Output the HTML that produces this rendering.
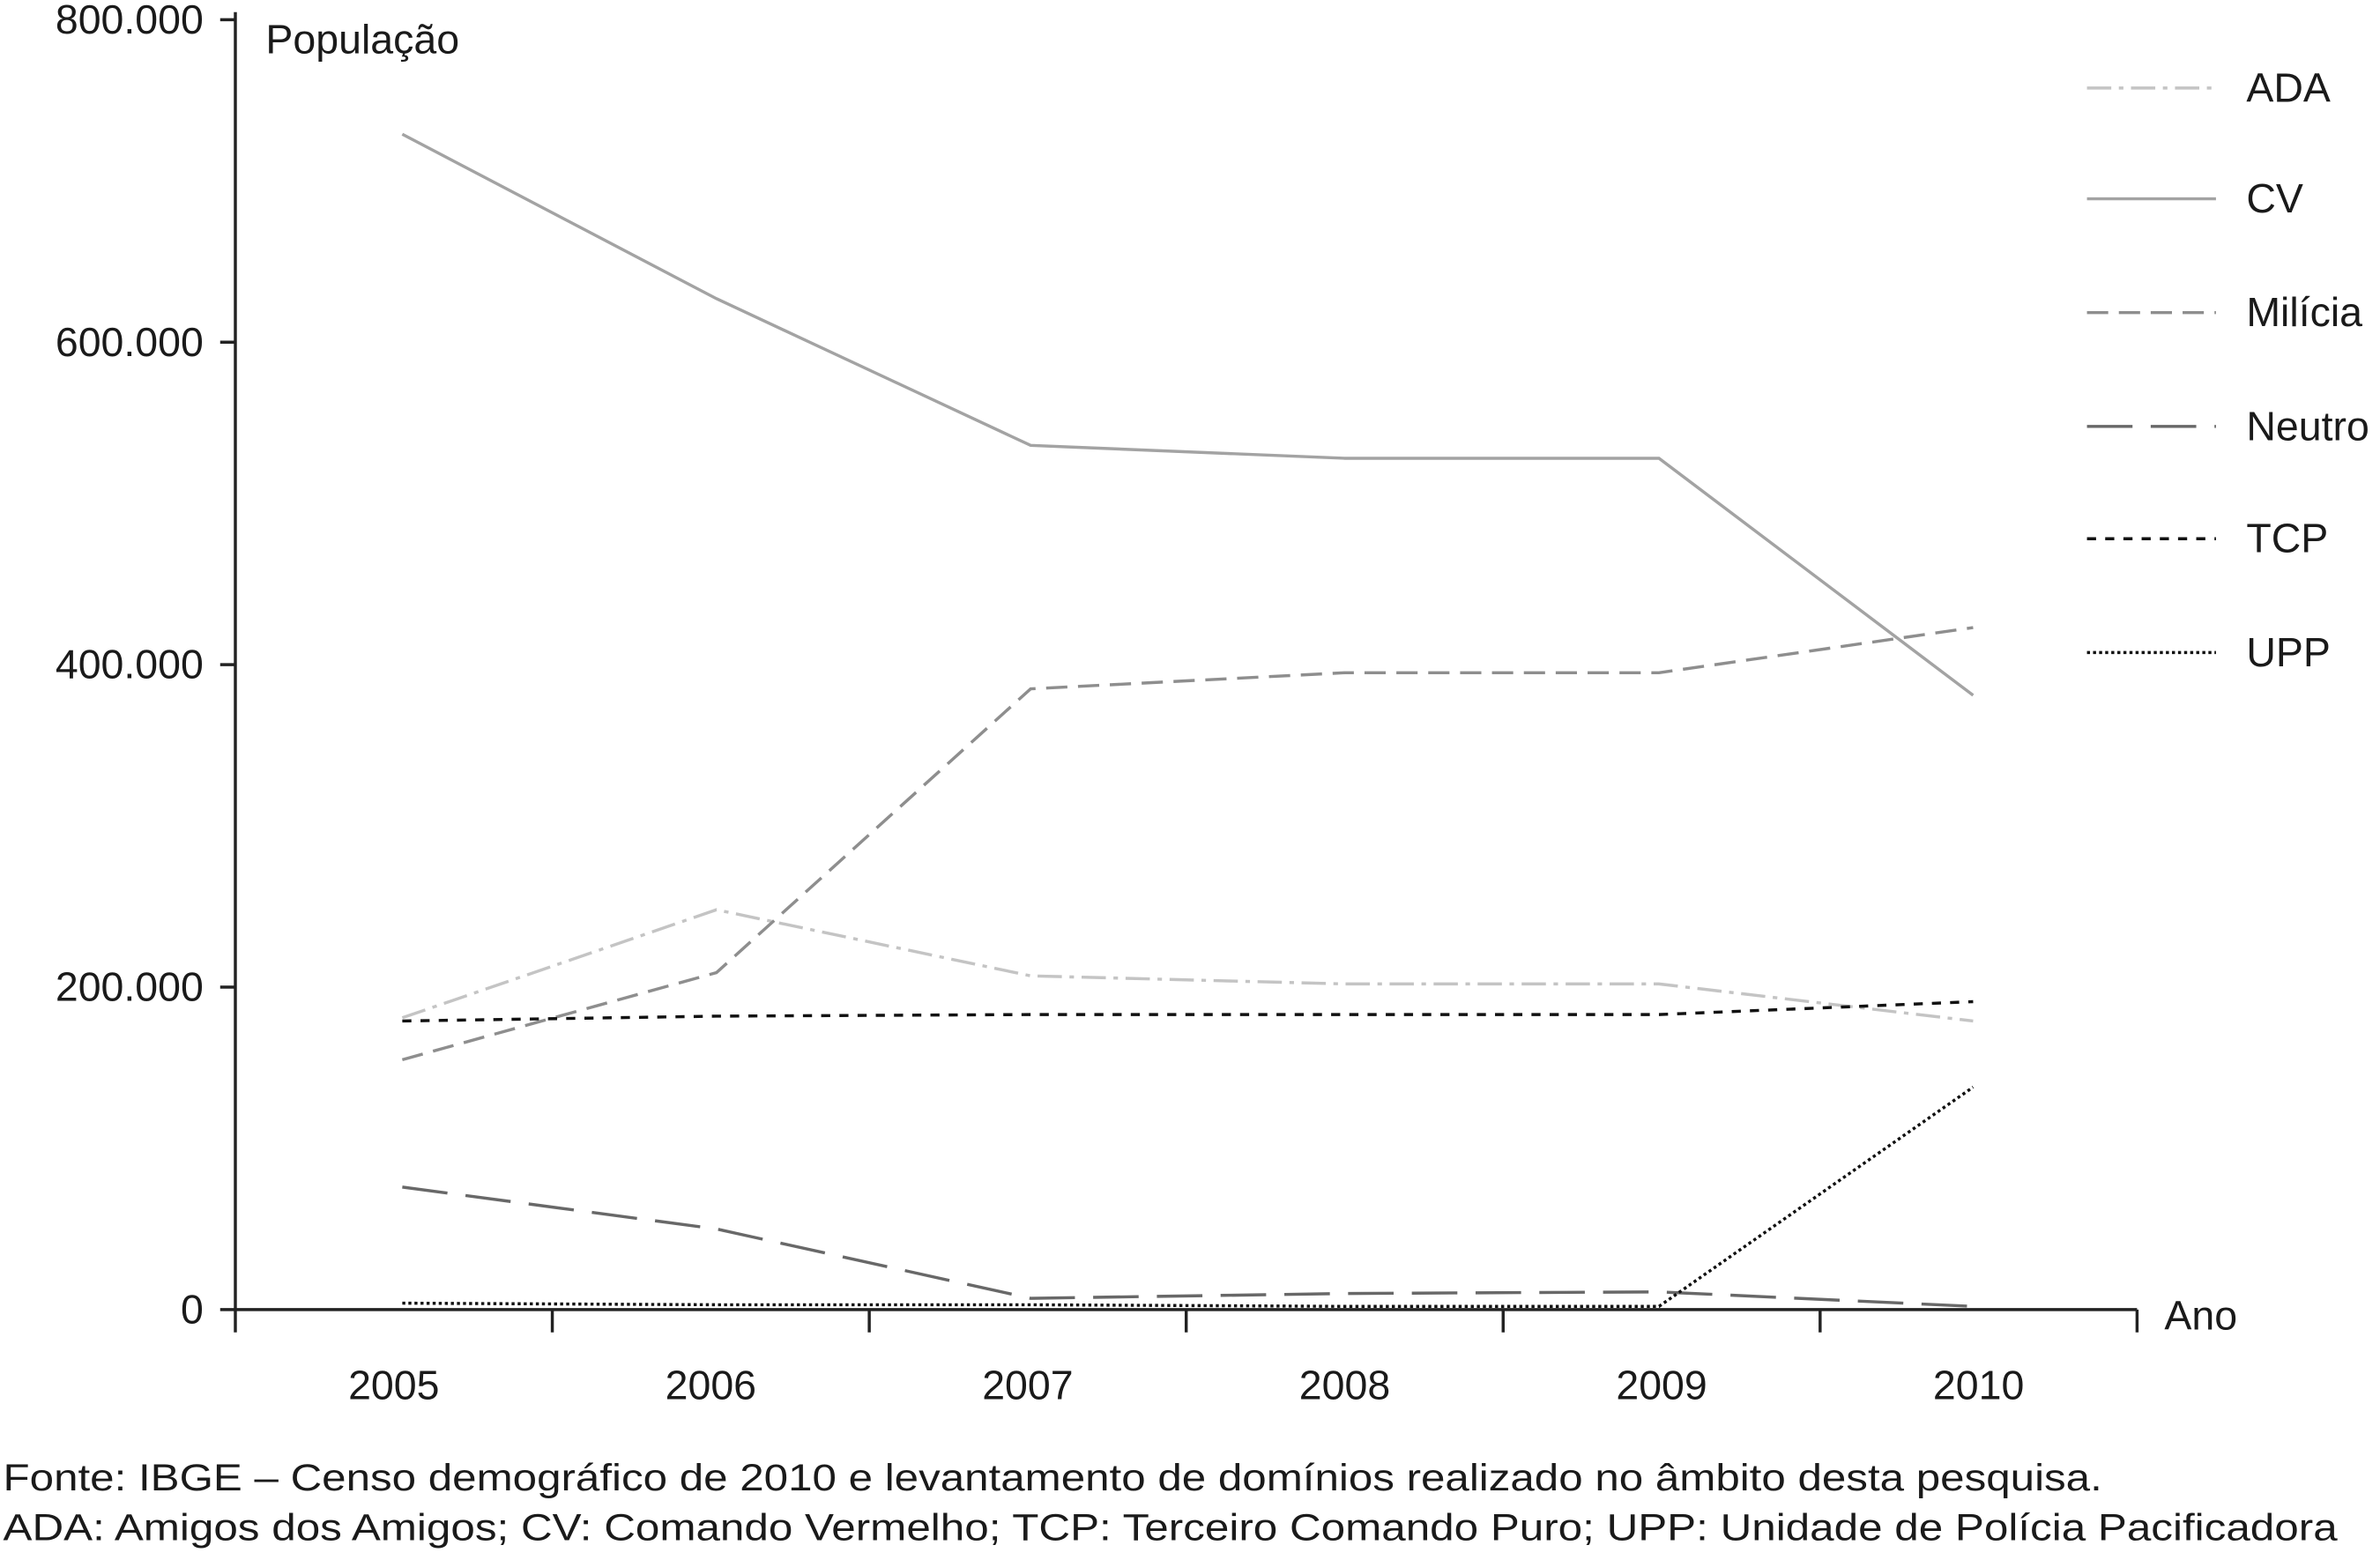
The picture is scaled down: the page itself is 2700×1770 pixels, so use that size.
<!DOCTYPE html>
<html><head><meta charset="utf-8"><style>
html,body{margin:0;padding:0;background:#fff}
svg{display:block}
text{font-family:"Liberation Sans",sans-serif;fill:#1a1a1a}
</style></head><body>
<svg id="chart" width="2700" height="1770" viewBox="0 0 1568 1028" xmlns="http://www.w3.org/2000/svg">
<g id="axes"></g><g id="series"></g><g id="legend"></g>
<text x="2" y="982" font-size="25" textLength="1383" lengthAdjust="spacingAndGlyphs">Fonte: IBGE – Censo demográfico de 2010 e levantamento de domínios realizado no âmbito desta pesquisa.</text>
<text x="2" y="1015" font-size="25" textLength="1538" lengthAdjust="spacingAndGlyphs">ADA: Amigos dos Amigos; CV: Comando Vermelho; TCP: Terceiro Comando Puro; UPP: Unidade de Polícia Pacificadora</text>
</svg>
<script>
const years = ["2005","2006","2007","2008","2009","2010"];
const yTicks = [0,200000,400000,600000,800000];
const yTickLabels = ["0","200.000","400.000","600.000","800.000"];
const seriesNames = ["ADA","CV","Milícia","Neutro","TCP","UPP"];
const adaValues = [181000,248000,207000,202000,202000,179000];
const cvValues = [729000,627000,536000,528000,528000,381000];
const miliciaValues = [155000,209000,385000,395000,395000,423000];
const neutroValues = [76000,50000,7000,10000,11000,2000];
const tcpValues = [179000,182000,183000,183000,183000,191000];
const uppValues = [4000,3000,3000,2000,2000,138000];

const NS="http://www.w3.org/2000/svg";
const x0=155,x1=1408,yBase=863,yTop=13;
function yScale(v){return yBase-(v/800000)*(yBase-yTop);}
function xScale(i){return 265+i*207;}
function mk(tag,attrs,parent){const e=document.createElementNS(NS,tag);for(const k in attrs)e.setAttribute(k,attrs[k]);parent.appendChild(e);return e;}
const axes=document.getElementById('axes');
let e=mk('line',{x1:x0,y1:8,x2:x0,y2:yBase,stroke:'#222','stroke-width':2},axes);


e=mk('line',{x1:x0,y1:yBase,x2:x1,y2:yBase,stroke:'#222','stroke-width':2},axes);


yTicks.forEach((v,i)=>{
  const y=yScale(v);
  const l=mk('line',{x1:x0-10,y1:y,x2:x0,y2:y,stroke:'#222','stroke-width':2},axes);
  
  
  const t=mk('text',{x:134,y:y+9,'font-size':27,'text-anchor':'end'},axes);
  t.textContent=yTickLabels[i];
  
  
});
for(let i=0;i<=years.length;i++){
  const x=x0+i*(x1-x0)/years.length;
  const l=mk('line',{x1:x,y1:yBase,x2:x,y2:878,stroke:'#222','stroke-width':2},axes);
  
  
}
years.forEach((yr,i)=>{
  const t=mk('text',{x:x0+(i+0.5)*(x1-x0)/years.length,y:922,'font-size':27,'text-anchor':'middle'},axes);
  t.textContent=yr;
  
  
});
e=mk('text',{x:175,y:35,'font-size':27},axes);e.textContent='População';


e=mk('text',{x:1426,y:876,'font-size':27},axes);e.textContent='Ano';



const styles=[
 {vals:adaValues,stroke:'#c4c4c4',dash:'16 5 3 5',w:2},
 {vals:cvValues,stroke:'#a3a3a3',dash:'',w:2},
 {vals:miliciaValues,stroke:'#8e8e8e',dash:'14 7',w:2},
 {vals:neutroValues,stroke:'#686868',dash:'30 12',w:2},
 {vals:tcpValues,stroke:'#111',dash:'6 6',w:2},
 {vals:uppValues,stroke:'#111',dash:'2 2',w:2}
];
const sg=document.getElementById('series'),lg=document.getElementById('legend');
const legY=[58,131,206,281,355,430];
styles.forEach((s,k)=>{
  const pts=s.vals.map((v,i)=>xScale(i)+','+yScale(v)).join(' ');
  const p=mk('polyline',{points:pts,fill:'none',stroke:s.stroke,'stroke-width':s.w,'stroke-dasharray':s.dash},sg);
  
  
  const l=mk('line',{x1:1375,y1:legY[k],x2:1460,y2:legY[k],stroke:s.stroke,'stroke-width':s.w,'stroke-dasharray':s.dash},lg);
  
  
  const t=mk('text',{x:1480,y:legY[k]+9,'font-size':27},lg);
  t.textContent=seriesNames[k];
  
  
});
</script>
</body></html>
